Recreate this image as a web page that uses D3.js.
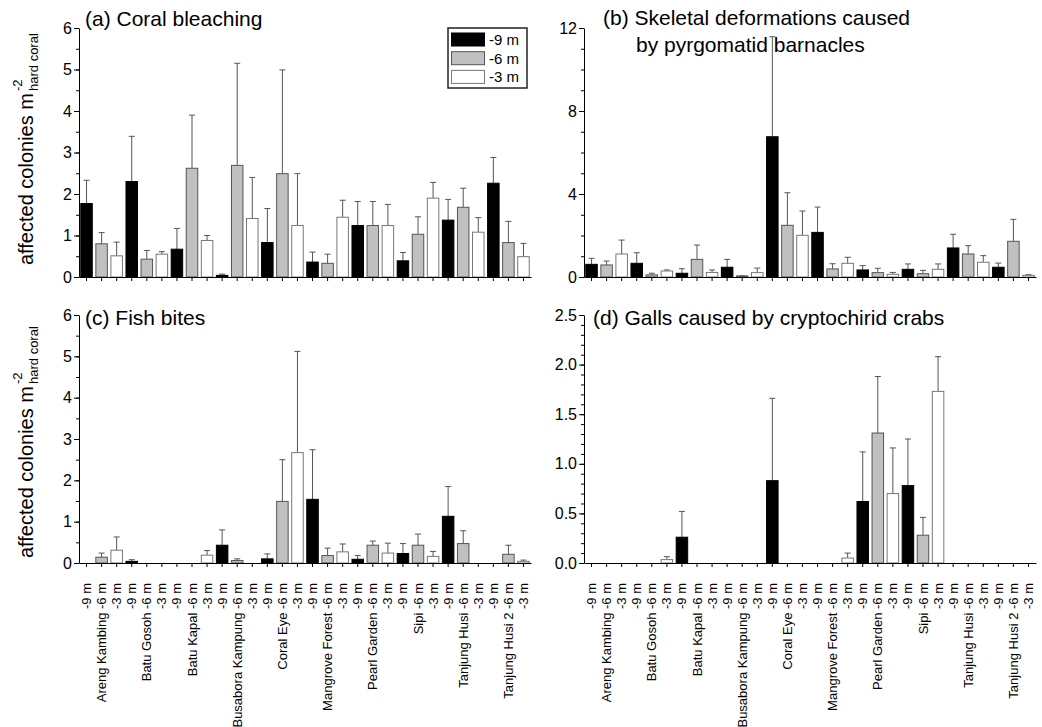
<!DOCTYPE html>
<html>
<head>
<meta charset="utf-8">
<script src="https://cdn.jsdelivr.net/npm/d3@7"></script>
<style>
  html, body { margin: 0; padding: 0; background: #fff; }
  svg { display: block; font-family: "Liberation Sans", Arial, sans-serif; }
</style>
</head>
<body>
<svg id="chart" width="1042" height="727"></svg>
<script>
// Sites and sampling depths (one bar per site x depth)
const sites = ["Areng Kambing", "Batu Gosoh", "Batu Kapal", "Busabora Kampung", "Coral Eye",
               "Mangrove Forest", "Pearl Garden", "Sipi", "Tanjung Husi", "Tanjung Husi 2"];
const depths = ["-9 m", "-6 m", "-3 m"];

// (a) Coral bleaching: mean and SD, ordered site by site, -9/-6/-3 m
const bleachMean = [1.77, 0.80, 0.51, 2.30, 0.43, 0.55, 0.67, 2.62, 0.88, 0.04, 2.69, 1.41,
                    0.83, 2.49, 1.24, 0.36, 0.33, 1.44, 1.24, 1.24, 1.24, 0.39, 1.03, 1.90,
                    1.37, 1.68, 1.08, 2.26, 0.83, 0.49];
const bleachSD   = [0.56, 0.27, 0.33, 1.09, 0.21, 0.06, 0.50, 1.28, 0.12, 0.03, 2.46, 0.99,
                    0.82, 2.50, 1.25, 0.24, 0.22, 0.41, 0.58, 0.58, 0.51, 0.20, 0.42, 0.38,
                    0.50, 0.46, 0.35, 0.62, 0.51, 0.32];

// (b) Skeletal deformations caused by pyrgomatid barnacles
const barnacleMean = [0.61, 0.58, 1.11, 0.66, 0.10, 0.29, 0.18, 0.85, 0.22, 0.47, 0.05, 0.21,
                      6.76, 2.49, 2.01, 2.15, 0.39, 0.66, 0.34, 0.21, 0.13, 0.37, 0.16, 0.37,
                      1.40, 1.11, 0.71, 0.47, 1.72, 0.08];
const barnacleSD   = [0.29, 0.19, 0.67, 0.51, 0.08, 0.05, 0.22, 0.69, 0.12, 0.38, 0.01, 0.22,
                      4.82, 1.57, 1.17, 1.22, 0.25, 0.29, 0.21, 0.21, 0.09, 0.26, 0.16, 0.26,
                      0.66, 0.40, 0.32, 0.20, 1.06, 0.03];

// (c) Fish bites
const fishMean = [0, 0.14, 0.31, 0.04, 0, 0, 0, 0, 0.19, 0.43, 0.06, 0,
                  0.10, 1.49, 2.67, 1.54, 0.18, 0.27, 0.09, 0.43, 0.24, 0.23, 0.43, 0.16,
                  1.13, 0.47, 0, 0, 0.21, 0.04];
const fishSD   = [0, 0.10, 0.32, 0.04, 0, 0, 0, 0, 0.11, 0.37, 0.04, 0,
                  0.12, 1.01, 2.45, 1.20, 0.18, 0.19, 0.09, 0.10, 0.24, 0.24, 0.27, 0.12,
                  0.72, 0.31, 0, 0, 0.22, 0.03];

// (d) Galls caused by cryptochirid crabs
const gallMean = [0, 0, 0, 0, 0, 0.034, 0.26, 0, 0, 0, 0, 0,
                  0.83, 0, 0, 0, 0, 0.05, 0.62, 1.31, 0.70, 0.78, 0.28, 1.73,
                  0, 0, 0, 0, 0, 0];
const gallSD   = [0, 0, 0, 0, 0, 0.03, 0.26, 0, 0, 0, 0, 0,
                  0.83, 0, 0, 0, 0, 0.05, 0.50, 0.57, 0.46, 0.47, 0.18, 0.35,
                  0, 0, 0, 0, 0, 0];

// y-axis tick settings per panel
const ticksA = d3.range(0, 7, 1), minorA = d3.range(0, 6.01, 0.5);
const ticksB = [0, 4, 8, 12],     minorB = d3.range(0, 12.01, 1);
const ticksD = d3.range(0, 2.51, 0.5), minorD = d3.range(0, 2.501, 0.1);

const fills   = ["#000000", "#c0c0c0", "#ffffff"];
const strokes = ["#000000", "#555555", "#777777"];

// Category keys: one per site/depth combination
const cats = [];
sites.forEach(s => depths.forEach(d => cats.push({ site: s, depth: d })));
const keys = cats.map((c, i) => i);

const svg = d3.select("#chart");

const panels = [
  { mean: bleachMean,   sd: bleachSD,   x0: 79,  x1: 531,  top: 28,  bot: 277, max: 6,
    major: ticksA, minor: minorA, fmt: d3.format("d"), labels: false,
    title: ["(a) Coral bleaching"], tx: 85, ty: 26, t2x: 0 },
  { mean: barnacleMean, sd: barnacleSD, x0: 584, x1: 1036, top: 28,  bot: 277, max: 12,
    major: ticksB, minor: minorB, fmt: d3.format("d"), labels: false,
    title: ["(b) Skeletal deformations caused", "by pyrgomatid barnacles"], tx: 603, ty: 25, t2x: 636 },
  { mean: fishMean,     sd: fishSD,     x0: 79,  x1: 531,  top: 315, bot: 563, max: 6,
    major: ticksA, minor: minorA, fmt: d3.format("d"), labels: true,
    title: ["(c) Fish bites"], tx: 85, ty: 325, t2x: 0 },
  { mean: gallMean,     sd: gallSD,     x0: 584, x1: 1036, top: 315, bot: 563, max: 2.5,
    major: ticksD, minor: minorD, fmt: d3.format(".1f"), labels: true,
    title: ["(d) Galls caused by cryptochirid crabs"], tx: 593, ty: 325, t2x: 0 }
];

panels.forEach(p => {
  const x = d3.scaleBand().domain(keys).range([p.x0, p.x1]).paddingInner(0.17).paddingOuter(0.085);
  const y = d3.scaleLinear().domain([0, p.max]).range([p.bot, p.top]);
  const g = svg.append("g");

  // bars
  const rows = keys.map(i => ({ i, v: p.mean[i], e: p.sd[i], d: i % 3 })).filter(r => r.v > 0);

  // error bars (upper whisker only)
  const eb = g.append("g").attr("stroke", "#555").attr("stroke-width", 1);
  rows.filter(r => r.e > 0).forEach(r => {
    const cx = x(r.i) + x.bandwidth() / 2;
    eb.append("line").attr("x1", cx).attr("x2", cx).attr("y1", y(r.v)).attr("y2", y(r.v + r.e));
    eb.append("line").attr("x1", cx - 3).attr("x2", cx + 3).attr("y1", y(r.v + r.e)).attr("y2", y(r.v + r.e));
  });

  g.append("g").selectAll("rect").data(rows).join("rect")
    .attr("x", r => x(r.i) + 0.5)
    .attr("y", r => y(r.v))
    .attr("width", x.bandwidth() - 1)
    .attr("height", r => y(0) - y(r.v))
    .attr("fill", r => fills[r.d])
    .attr("stroke", r => strokes[r.d])
    .attr("stroke-width", 1);

  // x axis
  const xa = g.append("g").attr("transform", `translate(0,${p.bot})`)
    .call(d3.axisBottom(x).tickSize(4).tickSizeOuter(0)
      .tickFormat(i => (i % 3 === 1) ? `${cats[i].site} ${cats[i].depth}` : cats[i].depth));
  xa.select(".domain").attr("stroke", "#000");
  xa.selectAll(".tick line").attr("stroke", "#000");
  if (p.labels) {
    xa.selectAll(".tick text")
      .attr("transform", "rotate(-90)")
      .attr("x", -20).attr("y", 0).attr("dy", "0.35em")
      .attr("text-anchor", "end")
      .attr("font-size", 13).attr("font-family", "Liberation Sans, Arial, sans-serif")
      .attr("fill", "#000");
  } else {
    xa.selectAll(".tick text").remove();
  }

  // y axis: minor ticks then major ticks with labels
  const ym = g.append("g").attr("transform", `translate(${p.x0},0)`)
    .call(d3.axisLeft(y).tickValues(p.minor).tickSize(3).tickSizeOuter(0).tickFormat(""));
  ym.select(".domain").remove();
  ym.selectAll(".tick line").attr("stroke", "#000");
  const ya = g.append("g").attr("transform", `translate(${p.x0},0)`)
    .call(d3.axisLeft(y).tickValues(p.major).tickSize(5).tickSizeOuter(0).tickFormat(p.fmt));
  ya.select(".domain").attr("stroke", "#000");
  ya.selectAll(".tick line").attr("stroke", "#000");
  ya.selectAll(".tick text").attr("x", -7).attr("font-size", 16)
    .attr("font-family", "Liberation Sans, Arial, sans-serif").attr("fill", "#000");

  // panel title
  const t = g.append("text").attr("font-size", 21).attr("fill", "#000");
  t.append("tspan").attr("x", p.tx).attr("y", p.ty).text(p.title[0]);
  if (p.title[1]) t.append("tspan").attr("x", p.t2x).attr("y", p.ty + 27).text(p.title[1]);
});

// y-axis titles for left column
[265, 558].forEach(y0 => {
  const t = svg.append("text")
    .attr("transform", `translate(33,${y0}) rotate(-90)`)
    .attr("font-size", 20).attr("fill", "#000");
  t.append("tspan").attr("x", 0).attr("y", 0).text("affected colonies m");
  t.append("tspan").attr("x", 174).attr("y", -11).attr("font-size", 13).text("-2");
  t.append("tspan").attr("x", 174).attr("y", 5).attr("font-size", 13).text("hard coral");
});

// legend in panel (a)
const lg = svg.append("g");
lg.append("rect").attr("x", 448).attr("y", 28).attr("width", 79).attr("height", 60)
  .attr("fill", "#fff").attr("stroke", "#222").attr("stroke-width", 1.5);
depths.forEach((d, i) => {
  const yy = 33 + i * 18.7;
  lg.append("rect").attr("x", 451.5).attr("y", yy).attr("width", 33).attr("height", 13)
    .attr("fill", fills[i]).attr("stroke", strokes[i]).attr("stroke-width", 1);
  lg.append("text").attr("x", 489).attr("y", yy + 6.5).attr("dy", "0.36em")
    .attr("font-size", 15).attr("fill", "#000").text(d);
});
</script>
</body>
</html>
